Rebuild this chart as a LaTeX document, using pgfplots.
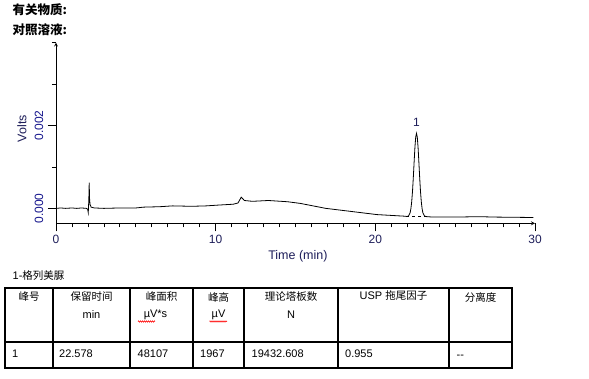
\documentclass[border=0pt]{standalone}
\usepackage{fontspec}
\setmainfont{Liberation Sans}
\newfontfamily\cjk{Noto Sans CJK SC}
\usepackage{pgfplots}
\pgfplotsset{compat=1.18}
\usetikzlibrary{decorations.pathmorphing}
\definecolor{navy}{RGB}{20,20,140}
\definecolor{darknavy}{RGB}{30,30,90}
\begin{document}
\begin{tikzpicture}
\useasboundingbox (0pt,0pt) rectangle (589pt,378pt);
\fill[white] (0pt,0pt) rectangle (589pt,378pt);
\begin{axis}[
  at={(56pt,154.7pt)}, anchor=south west,
  scale only axis, width=479pt, height=180.8pt,
  xmin=0, xmax=30, ymin=-0.00036, ymax=0.004,
  axis lines=left,
  axis line style={black, line width=0.8pt},
  xtick={0,10,20,30}, minor x tick num=9,
  ytick={0,0.002}, yticklabels={0.000,0.002},
  minor ytick={0.001,0.003,0.004},
  tick align=outside,
  major tick length=8pt, minor tick length=4pt,
  every tick/.style={black, line width=0.8pt},
  /pgf/number format/assume math mode=true,
  tick label style={font=\fontsize{12}{14}\selectfont},
  xticklabel style={text=darknavy},
  yticklabel style={text=navy, rotate=90, anchor=center, yshift=9pt},
  scaled y ticks=false,
  xlabel={Time (min)},
  xlabel style={font=\fontsize{12.5}{14}\selectfont, text=darknavy, at={(axis description cs:0.505,-0.185)}, anchor=center},
  ylabel={Volts},
  ylabel style={font=\fontsize{12.5}{14}\selectfont, text=darknavy, at={(axis description cs:-0.071,0.524)}, anchor=center},
  clip=false,
]
\addplot[black, line width=0.8pt] coordinates {
(0,0.0000) (0.3,0.00001) (0.6,0.0) (1.0,0.00001) (1.3,0.0) (1.6,0.00001) (1.9,0.0)
(1.98,-0.00002) (2.02,-0.0001) (2.04,0.00005) (2.06,0.00028) (2.08,0.00062) (2.10,0.00025)
(2.13,0.0001) (2.2,0.00003) (2.4,0.00001) (3.0,0.0) (4.0,0.00001) (5.0,0.00001)
(5.5,0.00003) (6.5,0.00004) (7.3,0.00006) (8.5,0.00005) (9.4,0.00006) (10.2,0.00008)
(11.1,0.0001) (11.4,0.00013) (11.6,0.00027) (11.8,0.00019) (12.3,0.00017) (13.3,0.00019)
(14.5,0.00016) (15.3,0.00012) (16.1,0.00006) (16.9,0.0) (18.4,-0.00007) (20.1,-0.00015)
(21.0,-0.00017) (21.9,-0.00019)
(21.978,-0.000198) (22.078,-0.000183) (22.178,-0.000105) (22.228,-0.000005)
(22.278,0.000162) (22.328,0.000411) (22.378,0.000738) (22.428,0.001109)
(22.478,0.001461) (22.528,0.001717) (22.578,0.00181) (22.628,0.001717)
(22.678,0.001461) (22.728,0.001109) (22.778,0.000738) (22.828,0.000411)
(22.878,0.000162) (22.928,-0.000005) (22.978,-0.000105) (23.078,-0.000183)
(23.178,-0.000198)
(23.6,-0.00021) (25,-0.00021) (26.5,-0.0002) (27.5,-0.00021) (29.9,-0.00022)
};
\addplot[black, dashed, line width=0.6pt] coordinates {(21.95,-0.0002) (23.2,-0.0002)};
\node[anchor=south, text=darknavy, font=\fontsize{12}{14}\selectfont, inner sep=1pt] at (axis cs:22.578,0.00195) {1};
\end{axis}
\begin{scope}[x=1pt,y=1pt]
\node[anchor=west,inner sep=0] at (12.5,368) {\cjk\bfseries\fontsize{12.5}{14}\selectfont 有关物质:};
\node[anchor=west,inner sep=0] at (12.5,348) {\cjk\bfseries\fontsize{12.5}{14}\selectfont 对照溶液:};
\node[anchor=west,inner sep=0] at (12.5,102) {\fontsize{11}{13}\selectfont 1-{\cjk\fontsize{10.5}{13}\selectfont 格列美脲}};
\draw[black, line width=1.2pt] (5,10) rectangle (512,90);
\draw[black, line width=1.2pt] (5,36) -- (512,36);
\foreach \x in {53,130,193,244,338,449} \draw[black, line width=1.2pt] (\x,10) -- (\x,90);
\begin{scope}[every node/.style={inner sep=0}]
\node at (29,81) {\cjk\fontsize{10.5}{13}\selectfont 峰号};
\node at (91.5,81) {\cjk\fontsize{10.5}{13}\selectfont 保留时间};
\node at (161.5,81) {\cjk\fontsize{10.5}{13}\selectfont 峰面积};
\node at (218.5,81) {\cjk\fontsize{10.5}{13}\selectfont 峰高};
\node at (291,81) {\cjk\fontsize{10.5}{13}\selectfont 理论塔板数};
\node at (393.5,82) {\fontsize{11}{13}\selectfont USP {\cjk\fontsize{10.5}{13}\selectfont 拖尾因子}};
\node at (480.5,81) {\cjk\fontsize{10.5}{13}\selectfont 分离度};
\node at (91.5,63) {\fontsize{11}{13}\selectfont min};
\node at (155.5,63) {\fontsize{11}{13}\selectfont µV*s};
\node at (218.5,63) {\fontsize{11}{13}\selectfont µV};
\node at (291,63) {\fontsize{11}{13}\selectfont N};
\node[anchor=west] at (12,24.7) {\fontsize{11}{13}\selectfont 1};
\node[anchor=west] at (59,24.7) {\fontsize{11}{13}\selectfont 22.578};
\node[anchor=west] at (137.5,24.7) {\fontsize{11}{13}\selectfont 48107};
\node[anchor=west] at (200,24.7) {\fontsize{11}{13}\selectfont 1967};
\node[anchor=west] at (251.5,24.7) {\fontsize{11}{13}\selectfont 19432.608};
\node[anchor=west] at (345,24.7) {\fontsize{11}{13}\selectfont 0.955};
\node[anchor=west] at (456.5,21.5) {\fontsize{11}{13}\selectfont -{}-};
\end{scope}
\draw[red, line width=0.5pt, decorate, decoration={zigzag, segment length=2pt, amplitude=0.7pt}] (138,56.5) -- (155,56.5);
\draw[red, line width=0.5pt, decorate, decoration={zigzag, segment length=2pt, amplitude=0.7pt}] (209.5,56.5) -- (227,56.5);
\end{scope}
\end{tikzpicture}
\end{document}
